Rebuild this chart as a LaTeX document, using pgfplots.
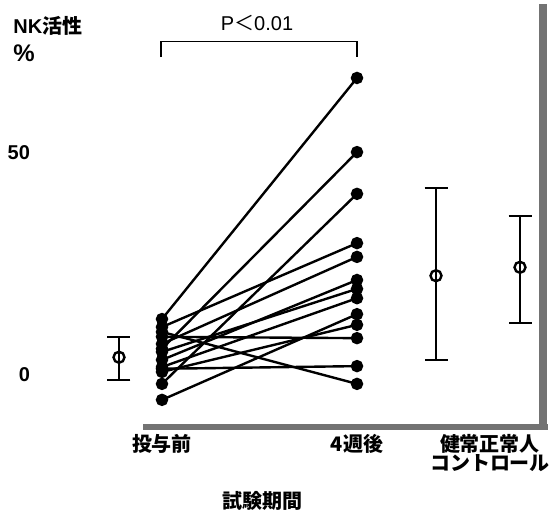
\documentclass[border=0pt]{standalone}
\usepackage{fontspec}
\setmainfont{Liberation Sans}
\newfontfamily\cjk{Noto Sans CJK JP}
\usepackage{pgfplots}
\pgfplotsset{compat=1.18}
\begin{document}
\begin{tikzpicture}
\begin{axis}[
  scale only axis, width=254pt, height=211.5pt,
  xmin=37, xmax=545, ymin=-11.71, ymax=83.56,
  clip=false,
  axis line style={draw=none},
  tick style={draw=none},
  ytick={0,50},
  xtick={162,357,490},
  xticklabels={投与前,4週後,{健常正常人\\コントロール}},
  xticklabel style={font=\cjk\bfseries\fontsize{10}{9.5}\selectfont, align=center, anchor=north},
  yticklabel style={font=\bfseries\fontsize{10}{12}\selectfont},
  /pgf/number format/assume math mode=true,
  subj/.style={black, line width=1.2pt, mark=*, mark size=2.5pt},
  grp/.style={black, only marks, mark=o, mark size=2.75pt, mark options={fill=white, line width=1.2pt},
     error bars/.cd, y dir=both, y explicit, error bar style={line width=1pt},
     error mark options={rotate=90, mark size=5.75pt, line width=1pt}},
]
% frame (right and bottom shaded edges)
\draw[black!55, line width=4pt] (axis cs:543,83.56) -- (axis cs:543,-11.71);
\draw[black!55, line width=3pt] (axis cs:143,-11.71) -- (axis cs:548,-11.71);
% bounding box
\path (axis cs:0,-31.76) (axis cs:558,83.56);
% individual subjects
\addplot[subj] coordinates {(162,12.6) (357,66.9)};
\addplot[subj] coordinates {(162,5.9) (357,50.2)};
\addplot[subj] coordinates {(162,-2.0) (357,40.8)};
\addplot[subj] coordinates {(162,10.8) (357,29.7)};
\addplot[subj] coordinates {(162,7.0) (357,26.6)};
\addplot[subj] coordinates {(162,3.4) (357,21.4)};
\addplot[subj] coordinates {(162,5.2) (357,19.4)};
\addplot[subj] coordinates {(162,1.8) (357,17.3)};
\addplot[subj] coordinates {(162,-5.6) (357,13.7)};
\addplot[subj] coordinates {(162,0.7) (357,11.3)};
\addplot[subj] coordinates {(162,8.6) (357,8.3)};
\addplot[subj] coordinates {(162,1.4) (357,2.0)};
\addplot[subj] coordinates {(162,9.7) (357,-2.0)};
% group means with error bars
\addplot[grp] coordinates {(119,4.0) += (0,4.56) -= (0,5.06)};
\addplot[grp] coordinates {(436,22.36) += (0,19.69) -= (0,18.98)};
\addplot[grp] coordinates {(520,24.26) += (0,11.62) -= (0,12.62)};
% significance bracket
\draw[black, line width=0.8pt] (axis cs:161,71.6) -- (axis cs:161,75.1) -- (axis cs:357,75.1) -- (axis cs:357,71.6);
\node[font=\fontsize{10}{12}\selectfont] at (axis cs:257,79.2) {P{\cjk ＜}0.01};
% axis titles
\node[anchor=west, font=\cjk\bfseries\fontsize{10}{12}\selectfont, inner sep=0pt] at (axis cs:13,78.6) {{\fontspec{Liberation Sans}\bfseries NK}活性};
\node[anchor=west, font=\bfseries\fontsize{12}{14}\selectfont, inner sep=0pt] at (axis cs:13,72.4) {\%};
\node[font=\cjk\bfseries\fontsize{10}{12}\selectfont] at (axis cs:262,-28.4) {試験期間};
\end{axis}
\end{tikzpicture}
\end{document}
